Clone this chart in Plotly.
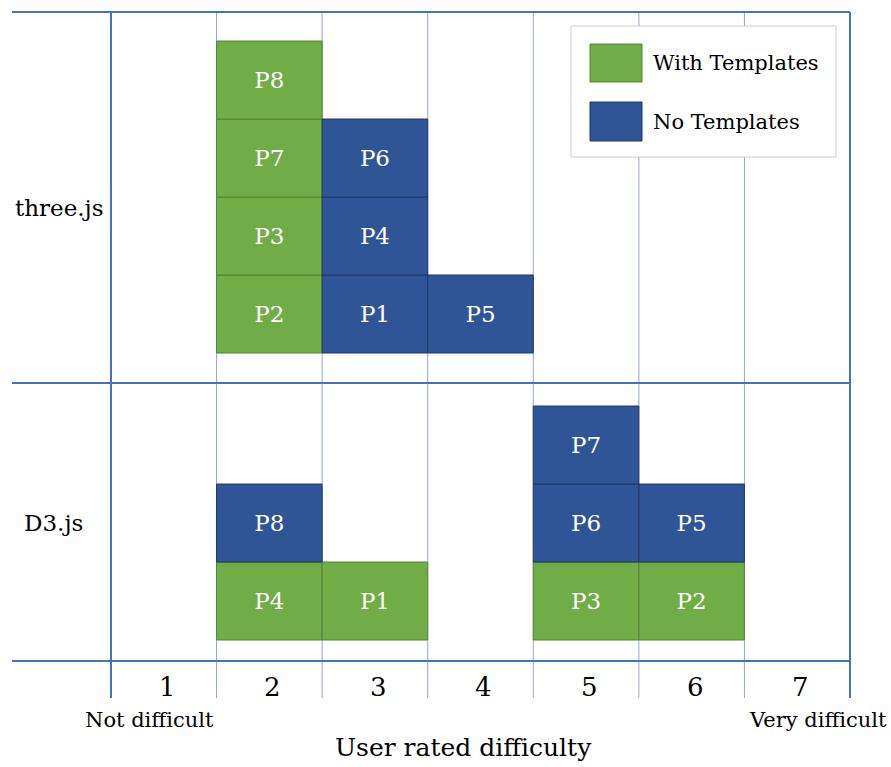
import plotly.graph_objects as go

# ---- data ----
difficulty_levels = [1, 2, 3, 4, 5, 6, 7]
libraries = ["three.js", "D3.js"]

# each entry listed bottom-to-top within its (library, difficulty) stack
entry_library = ["three.js"] * 8 + ["D3.js"] * 8
entry_participant = ["P2", "P3", "P7", "P8", "P1", "P4", "P6", "P5",
                     "P4", "P8", "P1", "P3", "P6", "P7", "P2", "P5"]
entry_difficulty = [2, 2, 2, 2, 3, 3, 3, 4,
                    2, 2, 3, 5, 5, 5, 6, 6]
entry_templates = ["With", "With", "With", "With", "No", "No", "No", "No",
                   "With", "No", "With", "With", "No", "No", "With", "No"]

# ---- layout constants (units: x = difficulty, y = block heights) ----
BLOCK_PX = 78.0
COL_PX = 105.57
baseline = {"three.js": (661 - 353) / BLOCK_PX, "D3.js": (661 - 640) / BLOCK_PX}
sep_y = (661 - 383) / BLOCK_PX
top_y = (661 - 12) / BLOCK_PX
bottom_tick_y = -(698 - 661) / BLOCK_PX
left_line_x = 0.5 - (111 - 12) / COL_PX

GREEN, GREEN_EDGE = "#70AD47", "#548235"
BLUE, BLUE_EDGE = "#2F5597", "#1F3864"
LINE, LINE_THIN = "#4472C4", "#8EA5CF"
FONT = "DejaVu Serif"

# compute stacking bases
counts = {}
bases = []
for lib, d in zip(entry_library, entry_difficulty):
    k = (lib, d)
    n = counts.get(k, 0)
    bases.append(baseline[lib] + n)
    counts[k] = n + 1

fig = go.Figure()
for tmpl, col, edge in [("With", GREEN, GREEN_EDGE), ("No", BLUE, BLUE_EDGE)]:
    idx = [i for i, t in enumerate(entry_templates) if t == tmpl]
    fig.add_trace(go.Bar(
        x=[entry_difficulty[i] for i in idx],
        y=[1] * len(idx),
        base=[bases[i] for i in idx],
        width=1,
        text=[entry_participant[i] for i in idx],
        textposition="inside",
        insidetextanchor="middle",
        textangle=0,
        textfont=dict(color="white", size=23, family=FONT),
        marker=dict(color=col, line=dict(color=edge, width=1)),
        name=f"{tmpl} Templates",
        showlegend=False,
        hoverinfo="skip",
    ))

shapes = []
# inner vertical lines
for k in range(1, 7):
    shapes.append(dict(type="line", x0=k + 0.5, x1=k + 0.5, y0=bottom_tick_y, y1=top_y,
                       line=dict(color=LINE_THIN, width=1), layer="below"))
# outer vertical lines
for xv in [0.5, 7.5]:
    shapes.append(dict(type="line", x0=xv, x1=xv, y0=bottom_tick_y, y1=top_y,
                       line=dict(color=LINE, width=2), layer="above"))
# horizontal lines
for yv in [0, sep_y, top_y]:
    shapes.append(dict(type="line", x0=left_line_x, x1=7.5, y0=yv, y1=yv,
                       line=dict(color=LINE, width=2), layer="above"))

# legend (paper coords)
W, H = 891.0, 767.0
def px(x): return x / W
def py(y): return 1 - y / H
shapes.append(dict(type="rect", xref="paper", yref="paper", x0=px(571), x1=px(836),
                   y0=py(157), y1=py(26), fillcolor="white",
                   line=dict(color="#C9CED6", width=1), layer="above"))
shapes.append(dict(type="rect", xref="paper", yref="paper", x0=px(590), x1=px(642),
                   y0=py(82), y1=py(44), fillcolor=GREEN,
                   line=dict(color=GREEN_EDGE, width=1), layer="above"))
shapes.append(dict(type="rect", xref="paper", yref="paper", x0=px(590), x1=px(642),
                   y0=py(141), y1=py(102), fillcolor=BLUE,
                   line=dict(color=BLUE_EDGE, width=1), layer="above"))

annotations = []
annotations.append(dict(xref="paper", yref="paper", x=px(651), y=py(63), text="With Templates",
                        showarrow=False, xanchor="left", yanchor="middle",
                        font=dict(size=21, family=FONT, color="black")))
annotations.append(dict(xref="paper", yref="paper", x=px(651), y=py(122), text="No Templates",
                        showarrow=False, xanchor="left", yanchor="middle",
                        font=dict(size=21, family=FONT, color="black")))
# row labels
row_label_y = {"three.js": (661 - 208) / BLOCK_PX, "D3.js": (661 - 523) / BLOCK_PX}
row_label_x = {"three.js": 0.5 - (111 - 59) / COL_PX, "D3.js": 0.5 - (111 - 53) / COL_PX}
for lib in libraries:
    annotations.append(dict(x=row_label_x[lib], y=row_label_y[lib], text=lib,
                            showarrow=False, xanchor="center", yanchor="middle",
                            font=dict(size=23, family=FONT, color="black")))
# tick labels
for d in difficulty_levels:
    annotations.append(dict(x=d + 3.5 / COL_PX, y=-(687 - 661) / BLOCK_PX, text=str(d),
                            showarrow=False, xanchor="center", yanchor="middle",
                            font=dict(size=26, family=FONT, color="black")))
annotations.append(dict(x=0.5 + (149 - 111) / COL_PX, y=-(720 - 661) / BLOCK_PX,
                        text="Not difficult", showarrow=False, xanchor="center", yanchor="middle",
                        font=dict(size=21, family=FONT, color="black")))
annotations.append(dict(x=0.5 + (818 - 111) / COL_PX, y=-(720 - 661) / BLOCK_PX,
                        text="Very difficult", showarrow=False, xanchor="center", yanchor="middle",
                        font=dict(size=21, family=FONT, color="black")))
annotations.append(dict(x=0.5 + (463 - 111) / COL_PX, y=-(747 - 661) / BLOCK_PX,
                        text="User rated difficulty", showarrow=False, xanchor="center",
                        yanchor="middle", font=dict(size=25, family=FONT, color="black")))

fig.update_layout(
    width=891, height=767,
    margin=dict(l=0, r=0, t=0, b=0),
    plot_bgcolor="white", paper_bgcolor="white",
    barmode="overlay",
    xaxis=dict(range=[0.5 - 111 / COL_PX, 0.5 + 780 / COL_PX], visible=False, fixedrange=True),
    yaxis=dict(range=[-(767 - 661) / BLOCK_PX, 661 / BLOCK_PX], visible=False, fixedrange=True),
    shapes=shapes,
    annotations=annotations,
    uniformtext=dict(minsize=8, mode="show"),
)

fig.write_html("out.html", config={"displayModeBar": False},
               post_script="document.body.style.margin='0';document.body.style.overflow='hidden';")
